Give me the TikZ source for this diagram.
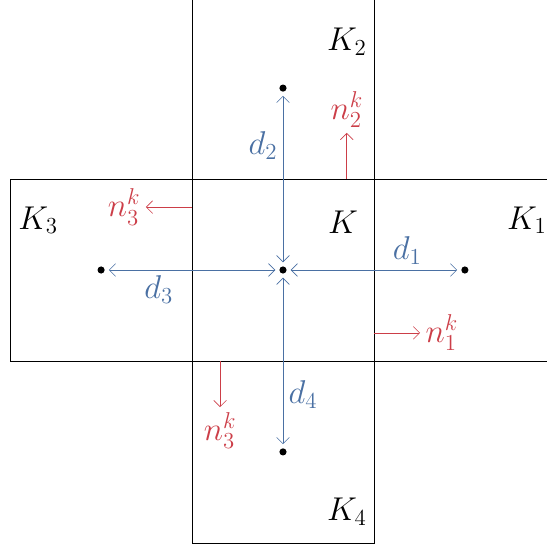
\documentclass[tikz,border=0pt]{standalone}
\usetikzlibrary{arrows.meta, positioning}
\definecolor{normred}{RGB}{204,62,72}
\definecolor{distblue}{RGB}{74,112,163}

\begin{document}
\begin{tikzpicture}[>={Straight Barb[length=4pt]},
    cell/.style={draw, minimum size=4.02cm, inner sep=0pt, outer sep=0pt},
    ctr/.style={circle, fill, inner sep=0pt, minimum size=4.5pt, outer sep=2.6pt},
    dist/.style={<->, distblue, font=\huge},
    norm/.style={->, normred, font=\huge},
    lbl/.style={font=\huge}]
    \clip (-6.254,-6.188) rectangle (5.834,5.967);

    % Zellen
    \node[cell] (K) at (0,0) {};
    \node[cell, right=0pt of K] (K1) {};
    \node[cell, above=0pt of K] (K2) {};
    \node[cell, left=0pt of K] (K3) {};
    \node[cell, below=0pt of K] (K4) {};

    % Mittelpunkte
    \node[ctr] (c) at (K.center) {};
    \node[ctr] (c1) at (K1.center) {};
    \node[ctr] (c2) at (K2.center) {};
    \node[ctr] (c3) at (K3.center) {};
    \node[ctr] (c4) at (K4.center) {};

    % Namen der Zellen
    \node[lbl] (tK) at (1.33,1.06) {$K$};
    \node[lbl] (tK1) at (5.39,1.10) {$K_1$};
    \node[lbl] (tK2) at (1.41,5.04) {$K_2$};
    \node[lbl] (tK3) at (-5.41,1.10) {$K_3$};
    \node[lbl] (tK4) at (1.41,-5.35) {$K_4$};

    % Abstaende
    \draw[dist] (c) -- node[pos=0.7, above] {$d_1$} (c1);
    \draw[dist] (c) -- node[pos=0.7, left] {$d_2$} (c2);
    \draw[dist] (c) -- node[pos=0.7, below] {$d_3$} (c3);
    \draw[dist] (c) -- node[pos=0.7, right] {$d_4$} (c4);

    % Normalen
    \coordinate (n1s) at (2.01,-1.39);
    \coordinate (n1e) at (3.03,-1.39);
    \coordinate (n2s) at (1.41,2.01);
    \coordinate (n2e) at (1.41,3.03);
    \coordinate (n3s) at (-2.01,1.39);
    \coordinate (n3e) at (-3.03,1.39);
    \coordinate (n4s) at (-1.39,-2.01);
    \coordinate (n4e) at (-1.39,-3.03);
    \draw[norm] (n1s) -- (n1e) node[right] {$n_1^k$};
    \draw[norm] (n2s) -- (n2e) node[above] {$n_2^k$};
    \draw[norm] (n3s) -- (n3e) node[left] {$n_3^k$};
    \draw[norm] (n4s) -- (n4e) node[below] {$n_3^k$};
\end{tikzpicture}
\end{document}
